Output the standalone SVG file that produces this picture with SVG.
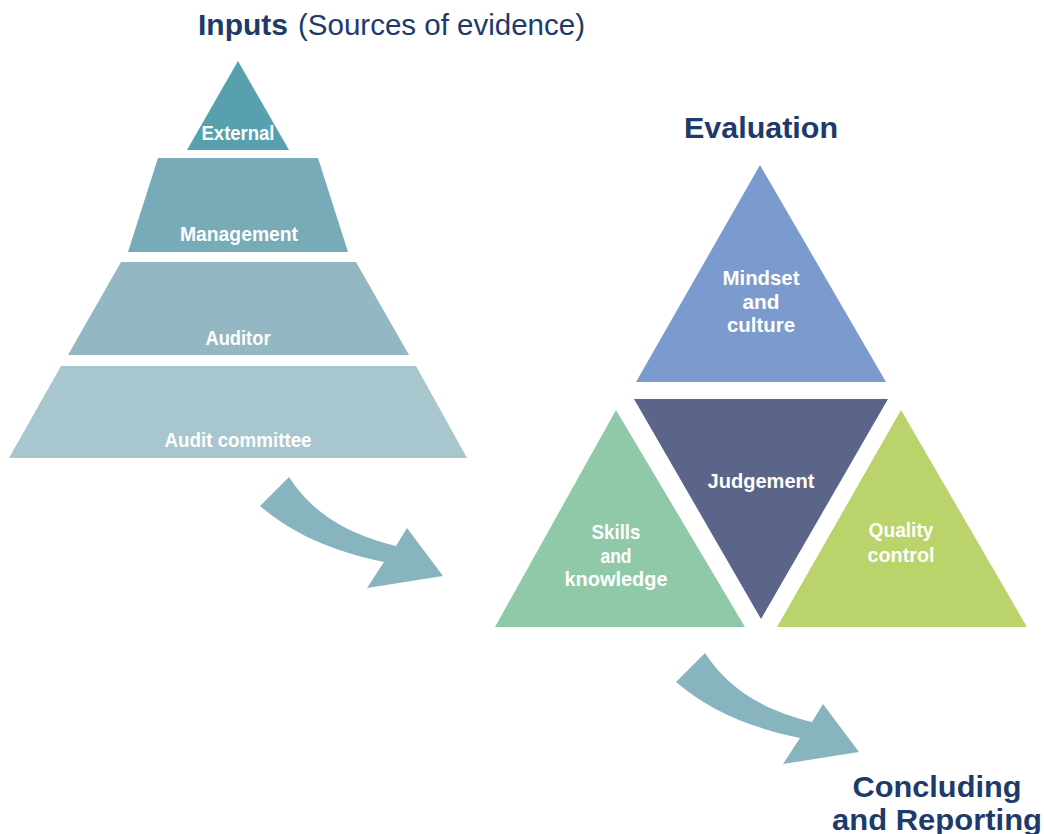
<svg xmlns="http://www.w3.org/2000/svg" xmlns:xlink="http://www.w3.org/1999/xlink" width="1044" height="834" viewBox="0 0 1044 834">
<style>
.title{font-family:"Liberation Sans",Arial,sans-serif;font-weight:bold;font-size:30px;fill:#1e3a6a;text-anchor:middle}
.sub{font-family:"Liberation Sans",Arial,sans-serif;font-weight:normal;font-size:29px;fill:#1e3a6a}
.lbl{font-family:"Liberation Sans Narrow","Liberation Sans",Arial,sans-serif;font-weight:bold;font-size:21px;fill:#ffffff;text-anchor:middle}
.arrow{fill:#87b4bf}
</style>
<defs>
<path id="curvedArrow" d="M260,506 L289,477 C308,506 338,532 396,546 L407,528 L443,576 L367,588 L384,562 C328,550 292,533 260,506 Z"/>
</defs>
<rect width="1044" height="834" fill="#ffffff"/>

<text x="198" y="35" font-family="Liberation Sans,Arial,sans-serif"><tspan font-weight="bold" font-size="30" fill="#1e3a6a" textLength="90" lengthAdjust="spacingAndGlyphs">Inputs</tspan><tspan class="sub" x="298" textLength="287" lengthAdjust="spacingAndGlyphs">(Sources of evidence)</tspan></text>

<g id="external">
<polygon points="238,61 289,150 187,150" fill="#58a0ad"/>
<text class="lbl" x="238" y="140" textLength="73" lengthAdjust="spacingAndGlyphs">External</text>
</g>
<g id="management">
<polygon points="158,158 318,158 348,252 128,252" fill="#77abb7"/>
<text class="lbl" x="239" y="241" textLength="118" lengthAdjust="spacingAndGlyphs">Management</text>
</g>
<g id="auditor">
<polygon points="121,262 356,262 409,355 68,355" fill="#93b8c3"/>
<text class="lbl" x="238" y="345" textLength="65" lengthAdjust="spacingAndGlyphs">Auditor</text>
</g>
<g id="audit-committee">
<polygon points="61,366 416,366 467,458 9,458" fill="#a8c6ce"/>
<text class="lbl" x="238" y="447" textLength="147" lengthAdjust="spacingAndGlyphs">Audit committee</text>
</g>

<text class="title" x="761" y="138" textLength="154" lengthAdjust="spacingAndGlyphs">Evaluation</text>

<g id="mindset">
<polygon points="760,165 886,382 636,382" fill="#7b9acd"/>
<text class="lbl" x="761" y="285" textLength="77" lengthAdjust="spacingAndGlyphs">Mindset</text>
<text class="lbl" x="761" y="309" textLength="37" lengthAdjust="spacingAndGlyphs">and</text>
<text class="lbl" x="761" y="332" textLength="68" lengthAdjust="spacingAndGlyphs">culture</text>
</g>
<g id="judgement">
<polygon points="634,399 888,399 761,619" fill="#5b6489"/>
<text class="lbl" x="761" y="488" textLength="107" lengthAdjust="spacingAndGlyphs">Judgement</text>
</g>
<g id="skills">
<polygon points="616,410 745,627 495,627" fill="#90c9a8"/>
<text class="lbl" x="616" y="539" textLength="49" lengthAdjust="spacingAndGlyphs">Skills</text>
<text class="lbl" x="616" y="563" textLength="31" lengthAdjust="spacingAndGlyphs">and</text>
<text class="lbl" x="616" y="586" textLength="103" lengthAdjust="spacingAndGlyphs">knowledge</text>
</g>
<g id="quality">
<polygon points="901,410 1027,627 777,627" fill="#bad36a"/>
<text class="lbl" x="901" y="537" textLength="65" lengthAdjust="spacingAndGlyphs">Quality</text>
<text class="lbl" x="901" y="562" textLength="67" lengthAdjust="spacingAndGlyphs">control</text>
</g>

<g id="connectors">
<use xlink:href="#curvedArrow" class="arrow"/>
<use xlink:href="#curvedArrow" class="arrow" transform="translate(416,176)"/>
</g>

<g id="concluding">
<text class="title" x="937" y="797" textLength="169" lengthAdjust="spacingAndGlyphs">Concluding</text>
<text class="title" x="937" y="830" textLength="210" lengthAdjust="spacingAndGlyphs">and Reporting</text>
</g>
</svg>
